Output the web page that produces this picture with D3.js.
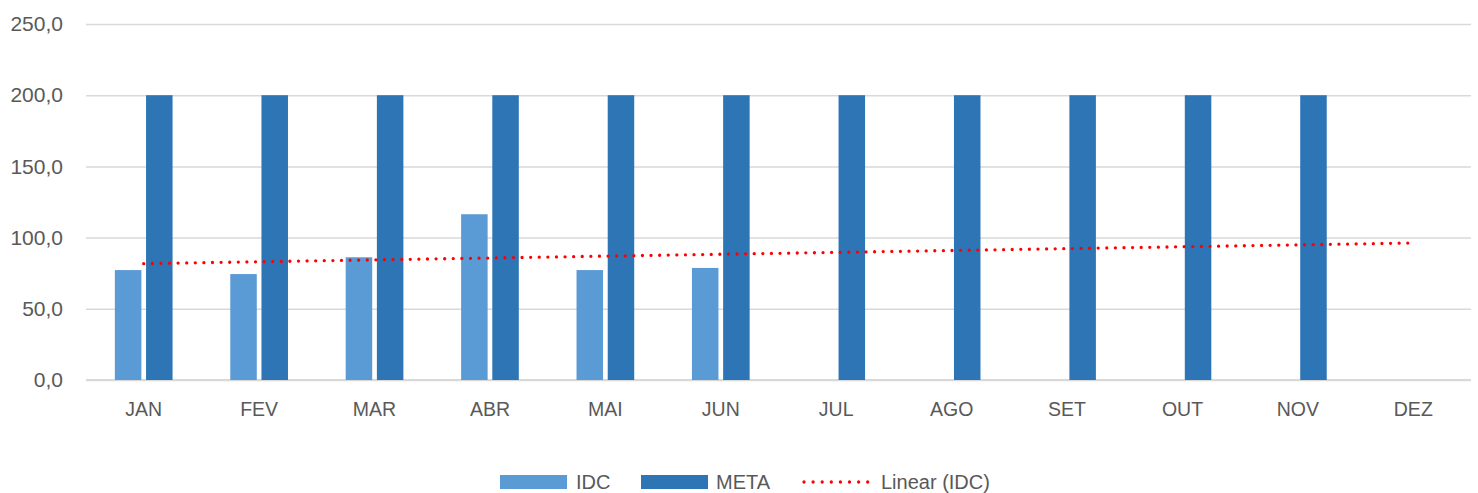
<!DOCTYPE html>
<html>
<head>
<meta charset="utf-8">
<script src="https://cdn.jsdelivr.net/npm/d3@7/dist/d3.min.js"></script>
<style>
  html, body { margin: 0; padding: 0; background: #fff; }
  svg { display: block; font-family: "Liberation Sans", Arial, sans-serif; }
</style>
</head>
<body>
<svg id="chart" width="1478" height="493"></svg>
<script>
// Monthly values
const months = ["JAN", "FEV", "MAR", "ABR", "MAI", "JUN", "JUL", "AGO", "SET", "OUT", "NOV", "DEZ"];
const idc = [77.2, 74.4, 86.2, 116.4, 77.2, 78.7, null, null, null, null, null, null];
const meta = [200, 200, 200, 200, 200, 200, 200, 200, 200, 200, 200, null];
const seriesNames = ["IDC", "META"];
const yTicks = [0, 50, 100, 150, 200, 250];
const legendLabels = ["IDC", "META", "Linear (IDC)"];

const colors = { IDC: "#5B9BD5", META: "#2E75B6" };
const textColor = "#595959";
const gridColor = "#d9d9d9";

const svg = d3.select("#chart");
const margin = { left: 86, right: 7, top: 24, bottom: 113 };
const W = 1478, H = 493;

const x0 = d3.scaleBand().domain(months).range([margin.left, W - margin.right]).padding(0);
const groupW = x0.bandwidth() * 0.5;
const x1 = d3.scaleBand().domain(seriesNames).range([0, groupW]).paddingInner(0.15);
const y = d3.scaleLinear().domain([0, 250]).range([H - margin.bottom, margin.top]);

// Gridlines + y labels
const yAxis = d3.axisLeft(y).tickValues(yTicks)
  .tickSize(-(W - margin.left - margin.right))
  .tickPadding(23)
  .tickFormat(d => d3.format(".1f")(d).replace(".", ","));
const gy = svg.append("g").attr("transform", `translate(${margin.left},0)`).call(yAxis);
gy.select(".domain").remove();
gy.selectAll(".tick line").attr("stroke", gridColor).attr("stroke-width", 1.5);
gy.selectAll(".tick text").attr("fill", textColor).attr("font-size", 21);

// Baseline
svg.append("line")
  .attr("x1", margin.left).attr("x2", W - margin.right)
  .attr("y1", y(0)).attr("y2", y(0))
  .attr("stroke", gridColor).attr("stroke-width", 2);

// X labels
const xAxis = d3.axisBottom(x0).tickSize(0).tickPadding(22);
const gx = svg.append("g").attr("transform", `translate(0,${y(0)})`).call(xAxis);
gx.select(".domain").remove();
gx.selectAll(".tick text").attr("fill", textColor).attr("font-size", 19.5);

// Bars
const rows = months.map((m, i) => ({ month: m, IDC: idc[i], META: meta[i] }));
const groups = svg.append("g").selectAll("g").data(rows).join("g")
  .attr("transform", d => `translate(${x0(d.month) + (x0.bandwidth() - groupW) / 2},0)`);
groups.selectAll("rect")
  .data(d => seriesNames.map(s => ({ s, v: d[s] })).filter(e => e.v != null))
  .join("rect")
  .attr("x", e => x1(e.s))
  .attr("width", x1.bandwidth())
  .attr("y", e => y(e.v))
  .attr("height", e => y(0) - y(e.v))
  .attr("fill", e => colors[e.s]);

// Linear trend of IDC (least squares over month index)
const pts = idc.map((v, i) => ({ i: i + 1, v })).filter(p => p.v != null);
const mx = d3.mean(pts, p => p.i), my = d3.mean(pts, p => p.v);
const slope = d3.sum(pts, p => (p.i - mx) * (p.v - my)) / d3.sum(pts, p => (p.i - mx) ** 2);
const intercept = my - slope * mx;
const trend = months.map((m, i) => ({ m, v: intercept + slope * (i + 1) }));
const line = d3.line().x(d => x0(d.m) + x0.bandwidth() / 2).y(d => y(d.v));
svg.append("path").datum(trend)
  .attr("d", line)
  .attr("fill", "none")
  .attr("stroke", "#FF0000")
  .attr("stroke-width", 3.3)
  .attr("stroke-linecap", "round")
  .attr("stroke-dasharray", "0 8.6");

// Legend
const lg = svg.append("g").attr("font-size", 20).attr("fill", textColor);
const ly = 482;
lg.append("rect").attr("x", 500).attr("y", ly - 7).attr("width", 67).attr("height", 14).attr("fill", colors.IDC);
lg.append("text").attr("x", 576).attr("y", ly).attr("dy", "0.36em").text(legendLabels[0]);
lg.append("rect").attr("x", 641).attr("y", ly - 7).attr("width", 67).attr("height", 14).attr("fill", colors.META);
lg.append("text").attr("x", 716).attr("y", ly).attr("dy", "0.36em").text(legendLabels[1]);
lg.append("line").attr("x1", 804).attr("x2", 868).attr("y1", ly).attr("y2", ly)
  .attr("stroke", "#FF0000").attr("stroke-width", 3.3)
  .attr("stroke-linecap", "round").attr("stroke-dasharray", "0 9.1");
lg.append("text").attr("x", 881).attr("y", ly).attr("dy", "0.36em").text(legendLabels[2]);
</script>
</body>
</html>
